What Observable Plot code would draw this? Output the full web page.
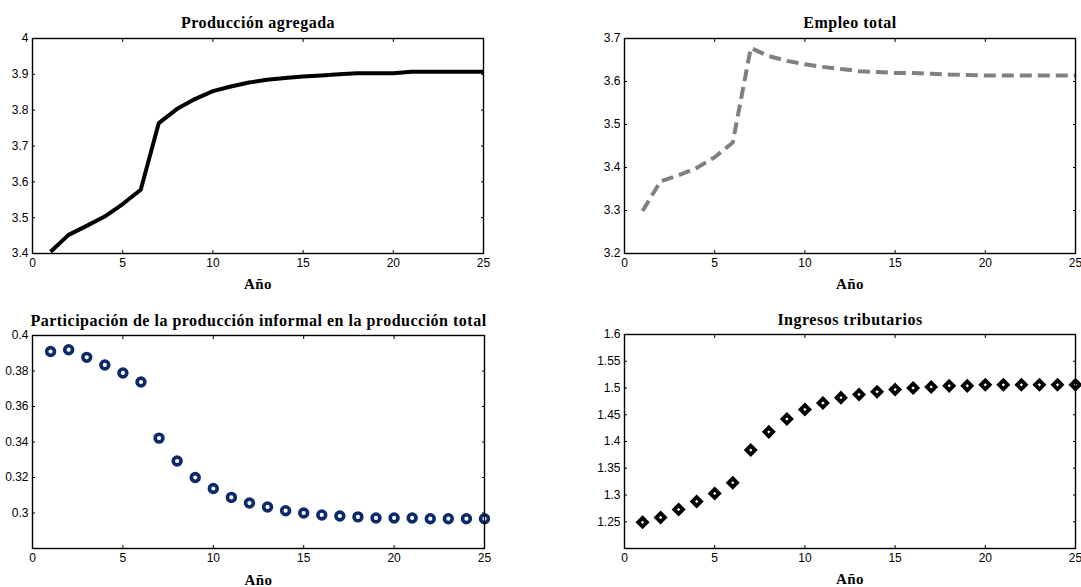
<!DOCTYPE html>
<html>
<head>
<meta charset="utf-8">
<script src="https://cdn.jsdelivr.net/npm/d3@7"></script>
<script src="https://cdn.jsdelivr.net/npm/@observablehq/plot@0.6"></script>
<style>
  html, body { margin: 0; padding: 0; background: #fff; }
  #fig { position: relative; width: 1081px; height: 587px; overflow: hidden; }
  #fig > svg { position: absolute; }
</style>
</head>
<body>
<div id="fig"></div>
<script>
// Simulated trajectories over 25 years
const years = [1, 2, 3, 4, 5, 6, 7, 8, 9, 10, 11, 12, 13, 14, 15, 16, 17, 18, 19, 20, 21, 22, 23, 24, 25];

const produccionAgregada = [3.405, 3.452, 3.477, 3.503, 3.538, 3.578, 3.764, 3.803, 3.831, 3.853,
  3.866, 3.877, 3.885, 3.890, 3.894, 3.897, 3.900, 3.903, 3.903, 3.903,
  3.907, 3.907, 3.907, 3.907, 3.907];

const empleoTotal = [3.299, 3.368, 3.382, 3.399, 3.424, 3.458, 3.678, 3.659, 3.648, 3.640,
  3.634, 3.629, 3.624, 3.622, 3.620, 3.620, 3.618, 3.616, 3.615, 3.614,
  3.614, 3.614, 3.614, 3.614, 3.614];

const participacionInformal = [0.3910, 0.3920, 0.3877, 0.3834, 0.3789, 0.3738, 0.3422, 0.3293, 0.3200, 0.3138,
  0.3088, 0.3056, 0.3034, 0.3013, 0.3000, 0.2989, 0.2983, 0.2978, 0.2972, 0.2972,
  0.2972, 0.2968, 0.2968, 0.2968, 0.2968];

const ingresosTributarios = [1.249, 1.258, 1.273, 1.288, 1.303, 1.323, 1.384, 1.418, 1.442, 1.460,
  1.472, 1.482, 1.488, 1.493, 1.497, 1.500, 1.502, 1.504, 1.504, 1.506,
  1.506, 1.506, 1.506, 1.506, 1.506];

// Axis ticks
const xTicks = [0, 5, 10, 15, 20, 25];
const yTicksProduccion = [3.4, 3.5, 3.6, 3.7, 3.8, 3.9, 4];
const yTicksEmpleo = [3.2, 3.3, 3.4, 3.5, 3.6, 3.7];
const yTicksInformal = [0.3, 0.32, 0.34, 0.36, 0.38, 0.4];
const yTicksIngresos = [1.25, 1.3, 1.35, 1.4, 1.45, 1.5, 1.55, 1.6];

const titles = [
  "Producción agregada",
  "Empleo total",
  "Participación de la producción informal en la producción total",
  "Ingresos tributarios"
];
const xLabel = "Año";

const serif = "'Times New Roman', 'Liberation Serif', serif";
const fig = document.getElementById("fig");

function panel({left, top, width, height, margins, yDomain, yTicks, title, marks, titleDy, labelDy}) {
  const [mt, mr, mb, ml] = margins;
  const tickFmt = d => String(d);
  const svg = Plot.plot({
    width, height,
    marginTop: mt, marginRight: mr, marginBottom: mb, marginLeft: ml,
    style: {fontFamily: "Arial, 'Liberation Sans', sans-serif", fontSize: "12px", color: "#000", background: "transparent", overflow: "visible"},
    x: {domain: [0, 25]},
    y: {domain: yDomain},
    marks: [
      ...marks,
      Plot.frame({stroke: "#000", strokeWidth: 1.4}),
      Plot.axisX(xTicks, {anchor: "bottom", tickSize: -3, tickPadding: 8, tickFormat: tickFmt, label: null}),
      Plot.axisX(xTicks, {anchor: "top", tickSize: -3, tickFormat: () => "", label: null}),
      Plot.axisY(yTicks, {anchor: "left", tickSize: -3, tickPadding: 7, tickFormat: tickFmt, label: null}),
      Plot.axisY(yTicks, {anchor: "right", tickSize: -3, tickFormat: () => "", label: null}),
      Plot.text([title], {frameAnchor: "top", lineAnchor: "middle", dy: titleDy, fontFamily: serif, fontWeight: "bold", fontSize: 16, fill: "#000"}),
      Plot.text([xLabel], {frameAnchor: "bottom", lineAnchor: "middle", dy: labelDy, fontFamily: serif, fontWeight: "bold", fontSize: 15, fill: "#000"})
    ]
  });
  svg.style.left = left + "px";
  svg.style.top = top + "px";
  d3.select(svg).selectAll("g[aria-label='text']").attr("letter-spacing", "0.5px");
  fig.appendChild(svg);
}

const rows = (ys) => years.map((x, i) => ({x, y: ys[i]}));

panel({
  left: 0, top: 0, width: 540, height: 300, margins: [38, 57, 47, 32],
  yDomain: [3.4, 4], yTicks: yTicksProduccion, title: titles[0], titleDy: -16, labelDy: 31,
  marks: [Plot.line(rows(produccionAgregada), {x: "x", y: "y", stroke: "#000", strokeWidth: 4, strokeLinecap: "butt"})]
});

panel({
  left: 540, top: 0, width: 541, height: 300, margins: [38, 6, 47, 84],
  yDomain: [3.2, 3.7], yTicks: yTicksEmpleo, title: titles[1], titleDy: -16, labelDy: 31,
  marks: [Plot.line(rows(empleoTotal), {x: "x", y: "y", stroke: "#808080", strokeWidth: 4, strokeDasharray: "12,6", strokeLinecap: "butt"})]
});

panel({
  left: 0, top: 300, width: 540, height: 287, margins: [35, 56, 39, 32],
  yDomain: [0.28, 0.4], yTicks: yTicksInformal, title: titles[2], titleDy: -15, labelDy: 32,
  marks: [Plot.dot(rows(participacionInformal), {x: "x", y: "y", r: 3.9, stroke: "#0c2a6b", strokeWidth: 3.6, fill: "#fff"})]
});

panel({
  left: 540, top: 300, width: 541, height: 287, margins: [34, 6, 39, 84],
  yDomain: [1.2, 1.6], yTicks: yTicksIngresos, title: titles[3], titleDy: -15, labelDy: 31,
  marks: [Plot.dot(rows(ingresosTributarios), {x: "x", y: "y", symbol: "diamond2", r: 3.9, stroke: "#000", strokeWidth: 3.8, strokeLinejoin: "miter", fill: "#fff"})]
});
</script>
</body>
</html>
